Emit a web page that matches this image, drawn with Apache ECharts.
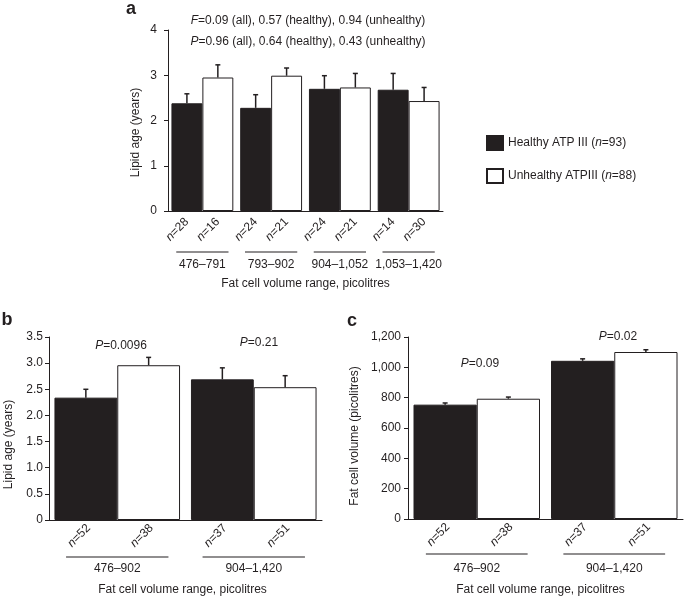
<!DOCTYPE html>
<html><head><meta charset="utf-8">
<script src="https://cdn.jsdelivr.net/npm/echarts@6/dist/echarts.min.js"></script>
<style>html,body{margin:0;padding:0;background:#fff}#c{width:685px;height:597px}</style>
</head><body><div id="c"></div>
<script>
// ---------- Panel a ----------
const aCategories = ['476–791', '793–902', '904–1,052', '1,053–1,420'];
const aHealthy = [2.38, 2.28, 2.70, 2.68];
const aHealthyErrTop = [2.59, 2.57, 2.99, 3.04];
const aUnhealthy = [2.95, 2.99, 2.73, 2.43];
const aUnhealthyErrTop = [3.23, 3.16, 3.04, 2.73];
const aHealthyN = [28, 24, 24, 14];
const aUnhealthyN = [16, 21, 21, 30];
const aYTicks = [0, 1, 2, 3, 4];

// ---------- Panel b ----------
const bCategories = ['476–902', '904–1,420'];
const bHealthy = [2.34, 2.69];
const bHealthyErrTop = [2.50, 2.91];
const bUnhealthy = [2.96, 2.54];
const bUnhealthyErrTop = [3.11, 2.76];
const bHealthyN = [52, 37];
const bUnhealthyN = [38, 51];
const bYTicks = [0, 0.5, 1.0, 1.5, 2.0, 2.5, 3.0, 3.5];

// ---------- Panel c ----------
const cCategories = ['476–902', '904–1,420'];
const cHealthy = [754, 1043];
const cHealthyErrTop = [765, 1056];
const cUnhealthy = [793, 1101];
const cUnhealthyErrTop = [804, 1116];
const cHealthyN = [52, 37];
const cUnhealthyN = [38, 51];
const cYTicks = [0, 200, 400, 600, 800, 1000, 1200];

// ---------- Legend ----------
const legendNames = ['healthy', 'unhealthy'];
const legendLabels = ['Healthy ATP III', 'Unhealthy ATPIII'];
const legendN = [93, 88];

const FONT = "'Liberation Sans', Arial, Helvetica, sans-serif";
const INK = '#231f20';
const ITAL = { i: { fontStyle: 'italic', fontSize: 12, fontFamily: FONT, color: INK } };

const chart = echarts.init(document.getElementById('c'), null, { renderer: 'canvas' });

function yAxisCfg(grid, ticks, name, nameGap, namePad, margin, fmt) {
  return {
    type: 'value', gridIndex: grid, min: ticks[0], max: ticks[ticks.length - 1],
    interval: ticks[1] - ticks[0],
    name: name, nameLocation: 'middle', nameGap: nameGap,
    nameTextStyle: { fontSize: 12, fontFamily: FONT, color: INK, padding: namePad },
    axisLine: { show: true, lineStyle: { color: INK, width: 1 } },
    axisTick: { show: true, length: 4, lineStyle: { color: INK } },
    axisLabel: { fontSize: 12, fontFamily: FONT, color: INK, margin: margin, formatter: fmt },
    splitLine: { show: false }
  };
}
function xAxisCfg(grid, cats, margin, nameGap, namePad) {
  return {
    type: 'category', gridIndex: grid, data: cats,
    name: 'Fat cell volume range, picolitres', nameLocation: 'middle', nameGap: nameGap,
    nameTextStyle: { fontSize: 12, fontFamily: FONT, color: INK, padding: namePad },
    axisLine: { show: true, lineStyle: { color: INK, width: 1 } },
    axisTick: { show: false },
    axisLabel: { fontSize: 12, fontFamily: FONT, color: INK, margin: margin, interval: 0 }
  };
}
function barSeries(name, grid, vals, ns, fill, gap, labelOffset) {
  return {
    type: 'bar', name: name, xAxisIndex: grid, yAxisIndex: grid, data: vals,
    barGap: '0%', barCategoryGap: gap,
    itemStyle: { color: fill, borderColor: INK, borderWidth: 1 },
    label: {
      show: true, position: 'bottom', distance: 9, rotate: 45,
      align: 'right', verticalAlign: 'middle', offset: labelOffset,
      fontSize: 12, fontFamily: FONT, color: INK,
      formatter: p => '{i|n}=' + ns[p.dataIndex], rich: ITAL
    },
    emphasis: { disabled: true }, z: 2
  };
}
function errSeries(grid, means, tops, side, gapFrac) {
  return {
    type: 'custom', xAxisIndex: grid, yAxisIndex: grid, z: 4, clip: false,
    data: means.map((m, i) => [i, m, tops[i]]),
    encode: { x: 0, y: [1, 2] },
    renderItem: function (params, api) {
      const w = api.size([1, 0])[0];
      const bw = w * (1 - gapFrac) / 2;
      const base = api.coord([api.value(0), api.value(1)]);
      const top = api.coord([api.value(0), api.value(2)]);
      const cx = base[0] + side * bw / 2;
      const st = { stroke: INK, lineWidth: 1.5 };
      return {
        type: 'group', children: [
          { type: 'line', shape: { x1: cx, y1: base[1], x2: cx, y2: top[1] }, style: st },
          { type: 'line', shape: { x1: cx - 2.5, y1: top[1], x2: cx + 2.5, y2: top[1] }, style: st }
        ]
      };
    }
  };
}
function groupLineSeries(grid, cats, drop, halfFrac) {
  return {
    type: 'custom', xAxisIndex: grid, yAxisIndex: grid, z: 4, clip: false, silent: true,
    data: cats.map((c, i) => [i, 0]),
    renderItem: function (params, api) {
      const w = api.size([1, 0])[0];
      const p = api.coord([api.value(0), 0]);
      return {
        type: 'line',
        shape: { x1: p[0] - w * halfFrac, y1: p[1] + drop, x2: p[0] + w * halfFrac, y2: p[1] + drop },
        style: { stroke: INK, lineWidth: 1.2 }
      };
    }
  };
}
function txt(x, y, text, size, bold) {
  return {
    type: 'text', x: x, y: y, silent: true,
    style: {
      text: text, rich: ITAL, fontSize: size, fontFamily: FONT, fill: INK,
      fontWeight: bold ? 'bold' : 'normal', align: 'center', verticalAlign: 'middle'
    }
  };
}

const fmtB = v => (v === 0 ? '0' : v.toFixed(1));
const fmtC = v => v.toLocaleString('en-US');

const option = {
  animation: false,
  backgroundColor: '#ffffff',
  textStyle: { fontFamily: FONT },
  grid: [
    { left: 168, top: 30, width: 275, height: 181 },
    { left: 49, top: 337, width: 273, height: 183 },
    { left: 408, top: 337, width: 275, height: 183 }
  ],
  xAxis: [
    xAxisCfg(0, aCategories, 48, 67, [0, 0, 0, 0]),
    xAxisCfg(1, bCategories, 43, 64, [0, 6, 0, 0]),
    xAxisCfg(2, cCategories, 44, 65, [0, 10, 0, 0])
  ],
  yAxis: [
    yAxisCfg(0, aYTicks, 'Lipid age (years)', 26, [0, 24, 0, 0], 11, v => String(v)),
    yAxisCfg(1, bYTicks, 'Lipid age (years)', 34, [0, 32, 0, 0], 6, fmtB),
    yAxisCfg(2, cYTicks, 'Fat cell volume (picolitres)', 47, [0, 16, 0, 0], 7, fmtC)
  ],
  legend: {
    data: legendNames, orient: 'vertical', left: 486, top: 135, padding: 0,
    itemWidth: 16, itemHeight: 14, itemGap: 17, icon: 'rect', selectedMode: false,
    textStyle: { fontSize: 12, fontFamily: FONT, color: INK, rich: ITAL },
    formatter: name => {
      const k = legendNames.indexOf(name);
      return legendLabels[k] + ' ({i|n}=' + legendN[k] + ')';
    }
  },
  series: [
    barSeries('healthy', 0, aHealthy, aHealthyN, INK, '10%', [0, 0]),
    barSeries('unhealthy', 0, aUnhealthy, aUnhealthyN, '#ffffff', '10%', [0, 0]),
    errSeries(0, aHealthy, aHealthyErrTop, -1, 0.10),
    errSeries(0, aUnhealthy, aUnhealthyErrTop, 1, 0.10),
    groupLineSeries(0, aCategories, 41, 0.38),

    barSeries('healthy', 1, bHealthy, bHealthyN, INK, '8%', [4, 0]),
    barSeries('unhealthy', 1, bUnhealthy, bUnhealthyN, '#ffffff', '8%', [4, 0]),
    errSeries(1, bHealthy, bHealthyErrTop, -1, 0.08),
    errSeries(1, bUnhealthy, bUnhealthyErrTop, 1, 0.08),
    groupLineSeries(1, bCategories, 37, 0.375),

    barSeries('healthy', 2, cHealthy, cHealthyN, INK, '8%', [4, 0]),
    barSeries('unhealthy', 2, cUnhealthy, cUnhealthyN, '#ffffff', '8%', [4, 0]),
    errSeries(2, cHealthy, cHealthyErrTop, -1, 0.08),
    errSeries(2, cUnhealthy, cUnhealthyErrTop, 1, 0.08),
    groupLineSeries(2, cCategories, 35, 0.37)
  ],
  graphic: [
    txt(131, 9, 'a', 18, true),
    txt(7, 320, 'b', 18, true),
    txt(352, 321, 'c', 18, true),
    txt(308, 21, '{i|F}=0.09 (all), 0.57 (healthy), 0.94 (unhealthy)', 12),
    txt(308, 42, '{i|P}=0.96 (all), 0.64 (healthy), 0.43 (unhealthy)', 12),
    txt(121, 346, '{i|P}=0.0096', 12),
    txt(259, 343, '{i|P}=0.21', 12),
    txt(480, 364, '{i|P}=0.09', 12),
    txt(618, 337, '{i|P}=0.02', 12)
  ]
};
chart.setOption(option);
</script>
</body></html>
